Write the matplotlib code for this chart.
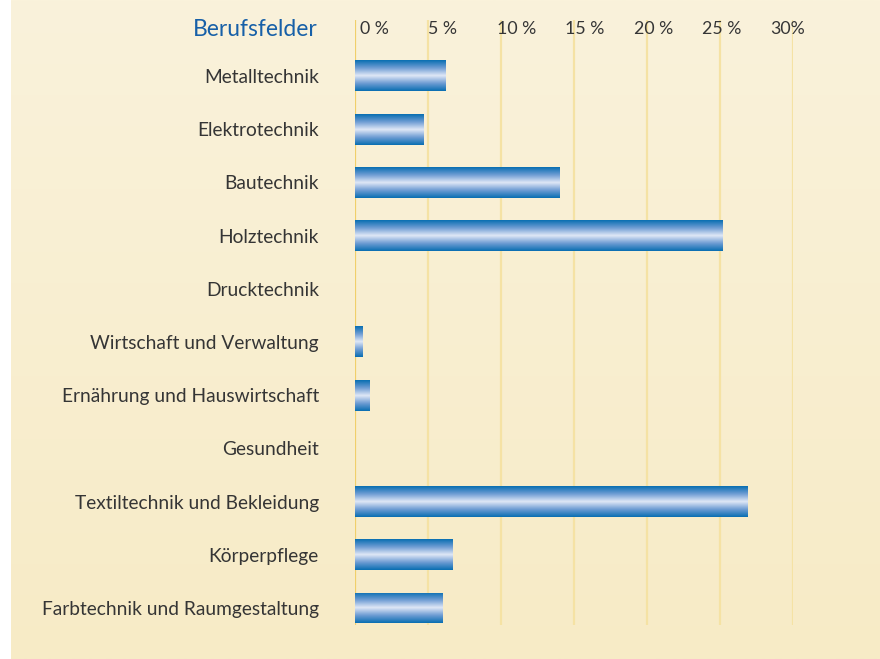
from matplotlib import pyplot as plt
from matplotlib.colors import LinearSegmentedColormap
from matplotlib import transforms
import numpy as np

# Daten
berufsfelder = ['Metalltechnik', 'Elektrotechnik', 'Bautechnik', 'Holztechnik',
                'Drucktechnik', 'Wirtschaft und Verwaltung', 'Ernährung und Hauswirtschaft',
                'Gesundheit', 'Textiltechnik und Bekleidung', 'Körperpflege',
                'Farbtechnik und Raumgestaltung']
anteile = [6.2, 4.7, 14.0, 25.2, 0.0, 0.5, 1.0, 0.0, 26.9, 6.7, 6.0]
ticks = [0, 5, 10, 15, 20, 25, 30]
tick_labels = ['0 %', '5 %', '10 %', '15 %', '20 %', '25 %', '30%']

plt.rcParams['font.family'] = ['Lato', 'DejaVu Sans']
grau = '#353535'
blau_titel = '#1760a8'

fig = plt.figure(figsize=(8.8, 6.59), dpi=100)
fig.patch.set_facecolor('white')

# Hintergrund mit leichtem Verlauf
bg = fig.add_axes([11 / 880, 0, 1 - 11 / 880, 1])
bg.set_axis_off()
verlauf = np.linspace(0, 1, 256).reshape(-1, 1)
bg_cmap = LinearSegmentedColormap.from_list('bg', ['#faf2db', '#f7ebc6'])
bg.imshow(verlauf, aspect='auto', cmap=bg_cmap, extent=[0, 1, 0, 1])

W, H = 880, 659
ax = fig.add_axes([355 / W, 34 / H, (793 - 355) / W, (639 - 34) / H])
ax.patch.set_alpha(0)
for s in ax.spines.values():
    s.set_visible(False)

y = np.arange(len(berufsfelder))

# Gitterlinien
for t in ticks:
    ax.axvline(t, color='#f0cf6a' if t == 0 else '#f5e2a4', lw=1.6, zorder=1)

# Balken mit Farbverlauf
bar_cmap = LinearSegmentedColormap.from_list(
    'bar', ['#0a6fb2', '#6f9dd4', '#dfe7f6', '#6f9dd4', '#0a6fb2'])
bars = ax.barh(y, anteile, height=0.58, color='none', zorder=2)
grad = np.linspace(0, 1, 100).reshape(-1, 1)
for bar in bars:
    if bar.get_width() <= 0:
        continue
    x0, y0 = bar.get_x(), bar.get_y()
    w, h = bar.get_width(), bar.get_height()
    im = ax.imshow(grad, aspect='auto', cmap=bar_cmap,
                   extent=[x0, x0 + w, y0 + h, y0], zorder=3)
    im.set_clip_path(bar)
ax.set_xlim(0, 30)
ax.set_ylim(10.32, -1.05)

# Kategorien
ax.set_yticks(y)
ax.set_yticklabels(berufsfelder, fontsize=13.8, color=grau)
ax.tick_params(axis='y', length=0, pad=26)
ax.set_xticks([])

# Achsenbeschriftung oben (im Original etwas enger gesetzt als das Raster)
off = transforms.offset_copy(ax.transData, fig=fig, x=5, y=0, units='dots')
for t, lab in zip(ticks, tick_labels):
    ax.text(t * 0.937, -0.88, lab, transform=off, ha='left', va='center',
            fontsize=12.8, color=grau, clip_on=False)

off_l = transforms.offset_copy(ax.transData, fig=fig, x=-37, y=0, units='dots')
ax.text(0, -0.88, 'Berufsfelder', transform=off_l, ha='right', va='center',
        fontsize=16.5, color=blau_titel, clip_on=False)

plt.savefig('out.png', dpi=100)
